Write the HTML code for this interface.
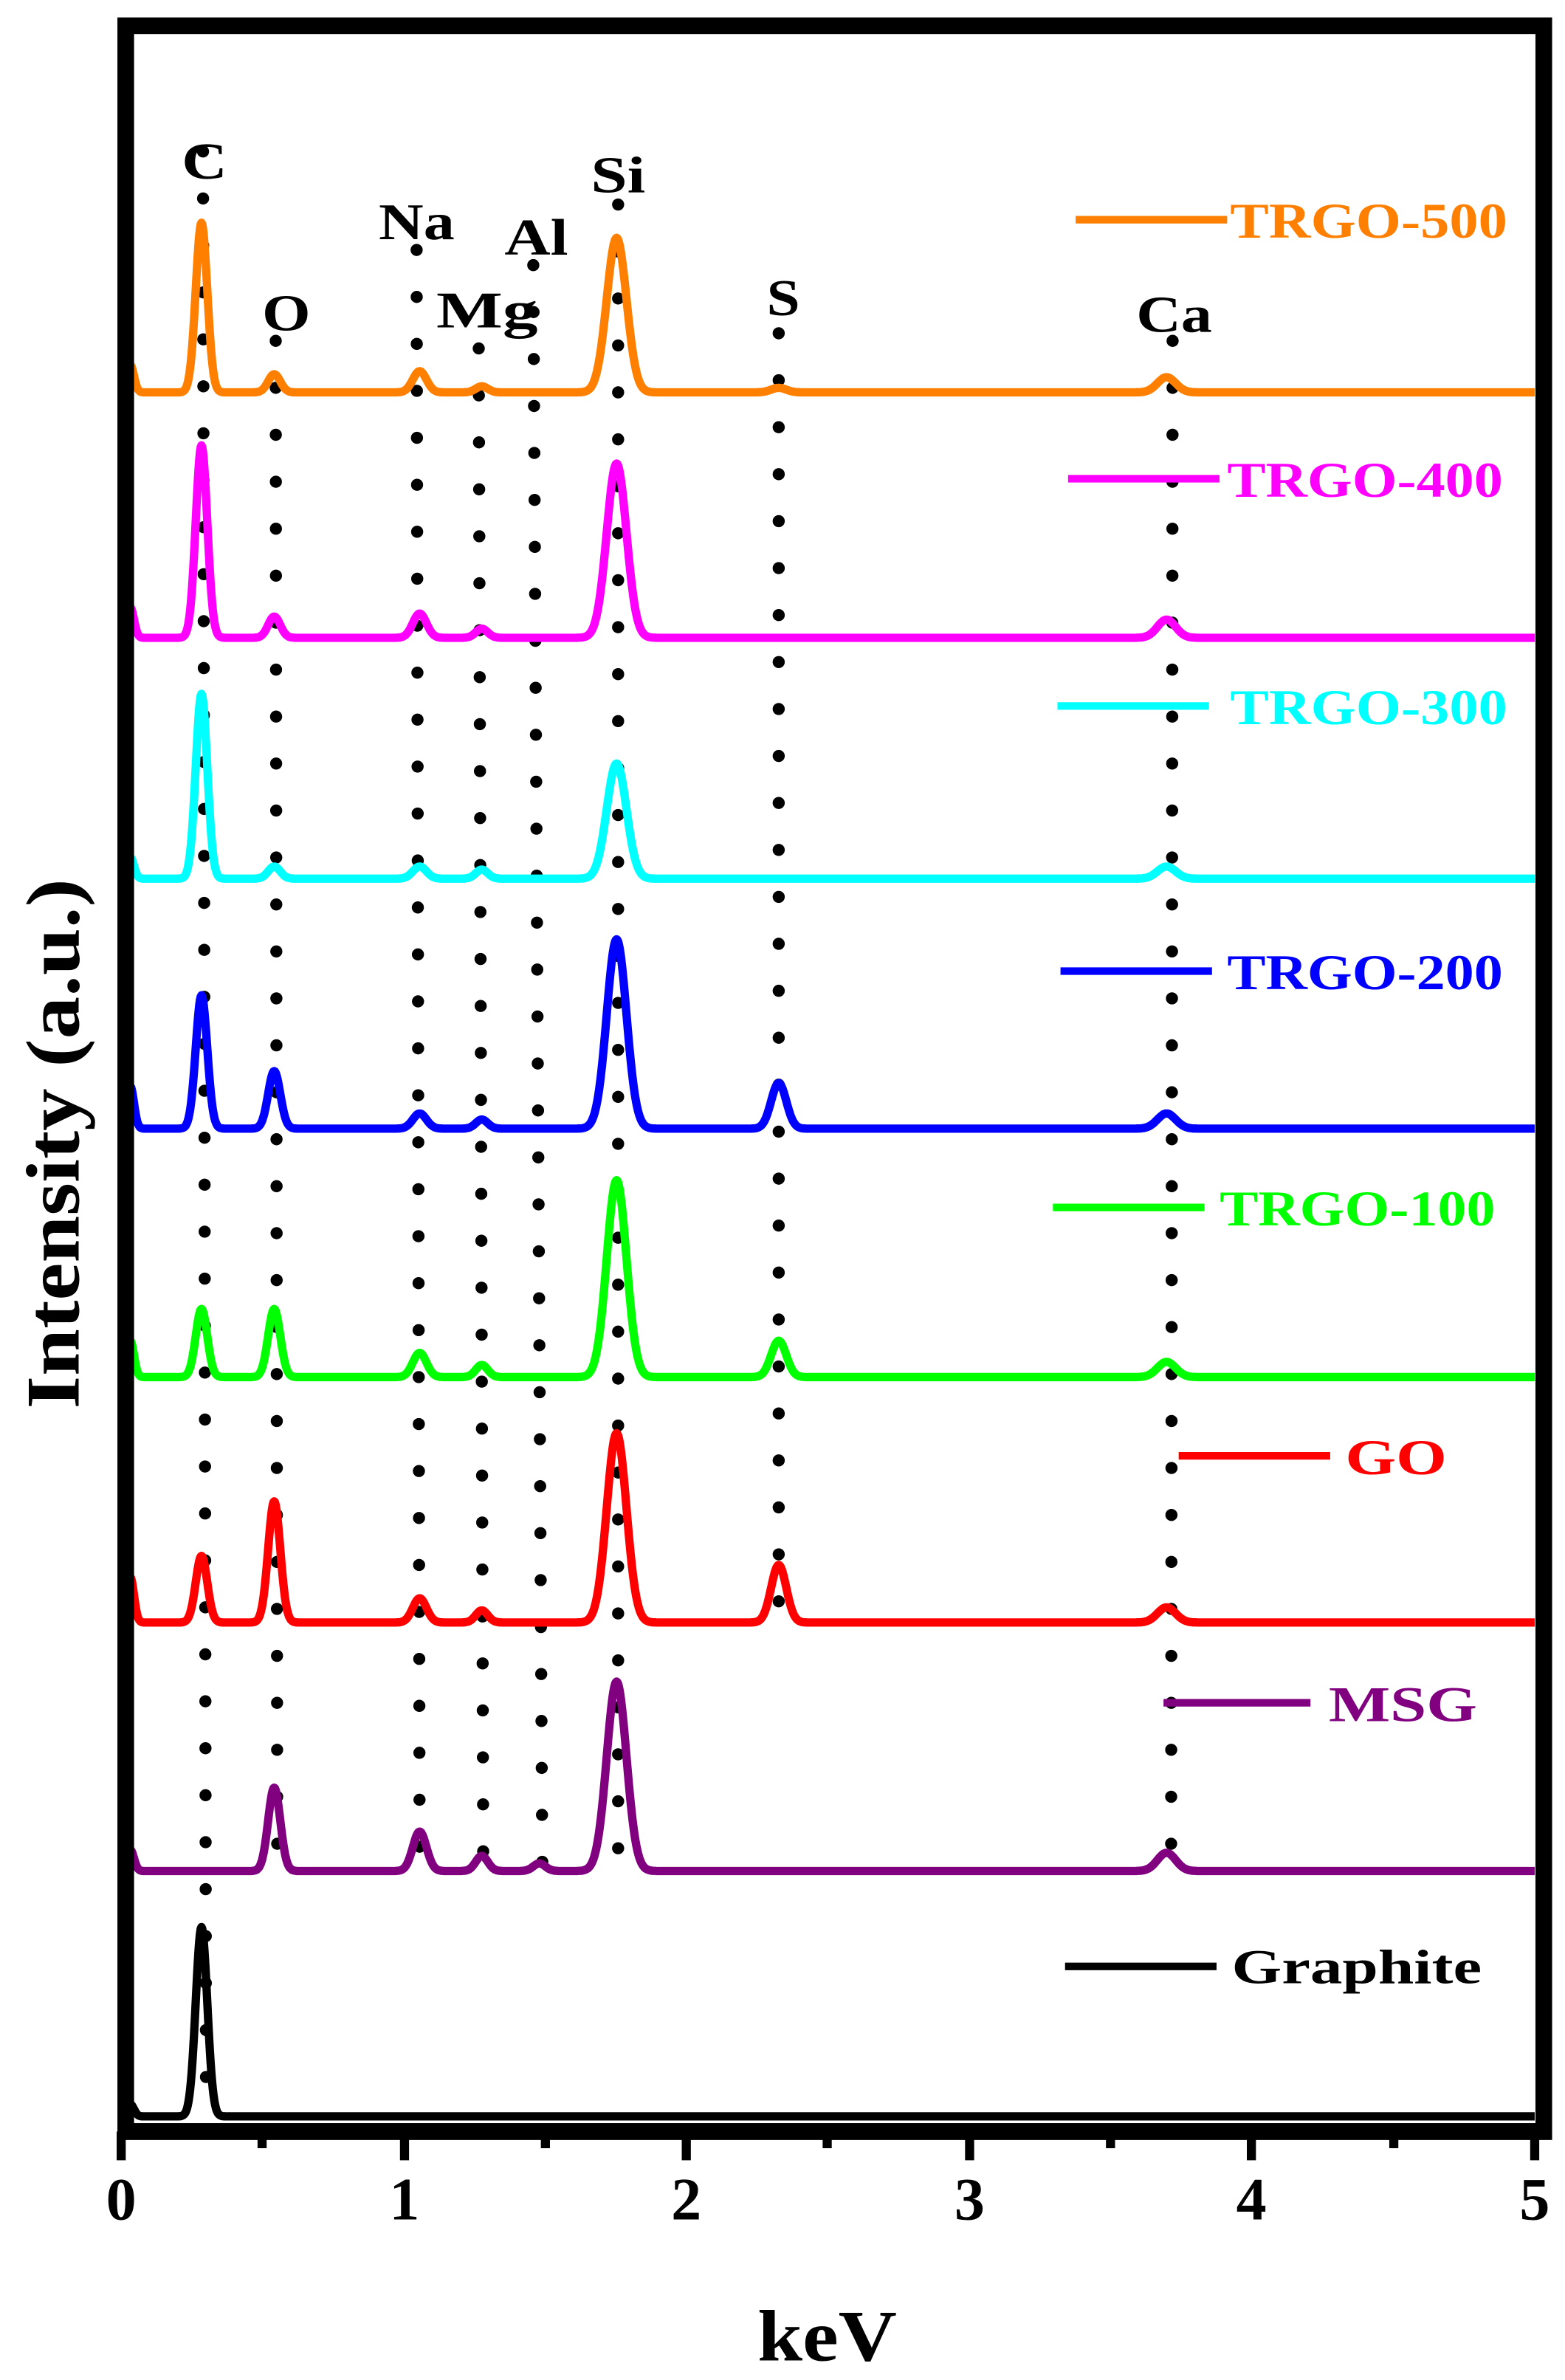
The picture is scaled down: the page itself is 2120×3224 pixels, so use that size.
<!DOCTYPE html>
<html><head><meta charset="utf-8"><style>
html,body{margin:0;padding:0;background:#fff;}
svg{display:block;}
text{font-family:"Liberation Serif",serif;font-weight:bold;}
</style></head><body>
<svg id="s" width="2120" height="3224" viewBox="0 0 1033 1571" preserveAspectRatio="none" xmlns="http://www.w3.org/2000/svg">
<rect x="0" y="0" width="1033" height="1571" fill="#fff"/>
<g id="dots" stroke="#000" stroke-width="8" stroke-linecap="round" stroke-dasharray="0 31" fill="none">
<line x1="134" y1="100" x2="136" y2="1395"/>
<line x1="182" y1="225" x2="183" y2="1232"/>
<line x1="275" y1="165" x2="277" y2="1235"/>
<line x1="316" y1="230" x2="319" y2="1240"/>
<line x1="352" y1="175" x2="358" y2="1240"/>
<line x1="408" y1="135" x2="408" y2="1232"/>
<line x1="514" y1="220" x2="514" y2="1062"/>
<line x1="774" y1="225" x2="773" y2="1232"/>
</g>
<g id="series" fill="none" stroke-width="5.5" stroke-linejoin="round"></g>
<rect x="83" y="17" width="936" height="1390" fill="none" stroke="#000" stroke-width="11"/>
<line x1="78" y1="1407" x2="1024" y2="1407" stroke="#000" stroke-width="11"/>
<g stroke="#000" stroke-width="6">
<line x1="80" y1="1407" x2="80" y2="1426"/><line x1="173" y1="1407" x2="173" y2="1418"/>
<line x1="267" y1="1407" x2="267" y2="1426"/><line x1="360" y1="1407" x2="360" y2="1418"/>
<line x1="453" y1="1407" x2="453" y2="1426"/><line x1="546" y1="1407" x2="546" y2="1418"/>
<line x1="640" y1="1407" x2="640" y2="1426"/><line x1="733" y1="1407" x2="733" y2="1418"/>
<line x1="826" y1="1407" x2="826" y2="1426"/><line x1="920" y1="1407" x2="920" y2="1418"/>
<line x1="1013" y1="1407" x2="1013" y2="1426"/>
</g>
<g font-size="40" text-anchor="middle" fill="#000">
<text x="80" y="1465">0</text><text x="267" y="1465">1</text>
<text x="453" y="1465">2</text><text x="640" y="1465">3</text>
<text x="826" y="1465">4</text><text x="1013" y="1465">5</text>
</g>
<text x="500" y="1558" font-size="48" textLength="92" lengthAdjust="spacingAndGlyphs">keV</text>
<text transform="translate(52,755) rotate(-90)" font-size="50" text-anchor="middle" textLength="350" lengthAdjust="spacingAndGlyphs">Intensity (a.u.)</text>
<g font-size="34" fill="#000">
<text x="120" y="118" textLength="30" lengthAdjust="spacingAndGlyphs">C</text>
<text x="173" y="218" textLength="32" lengthAdjust="spacingAndGlyphs">O</text>
<text x="250" y="158" textLength="50" lengthAdjust="spacingAndGlyphs">Na</text>
<text x="288" y="216" textLength="67" lengthAdjust="spacingAndGlyphs">Mg</text>
<text x="333" y="168" textLength="42" lengthAdjust="spacingAndGlyphs">Al</text>
<text x="390" y="127" textLength="36" lengthAdjust="spacingAndGlyphs">Si</text>
<text x="506" y="208" textLength="22" lengthAdjust="spacingAndGlyphs">S</text>
<text x="750" y="219" textLength="50" lengthAdjust="spacingAndGlyphs">Ca</text>
</g>
<g stroke-width="5">
<line x1="710" y1="145" x2="810" y2="145" stroke="#ff7f00"/>
<line x1="705" y1="316" x2="805" y2="316" stroke="#ff00ff"/>
<line x1="698" y1="466" x2="798" y2="466" stroke="#00ffff"/>
<line x1="700" y1="641" x2="800" y2="641" stroke="#0000ff"/>
<line x1="695" y1="797" x2="795" y2="797" stroke="#00ff00"/>
<line x1="778" y1="961" x2="878" y2="961" stroke="#ff0000"/>
<line x1="768" y1="1124" x2="865" y2="1124" stroke="#800080"/>
<line x1="703" y1="1298" x2="803" y2="1298" stroke="#000"/>
</g>
<g font-size="33">
<text x="812" y="157" fill="#ff7f00" textLength="183" lengthAdjust="spacingAndGlyphs">TRGO-500</text>
<text x="810" y="328" fill="#ff00ff" textLength="182" lengthAdjust="spacingAndGlyphs">TRGO-400</text>
<text x="812" y="478" fill="#00ffff" textLength="183" lengthAdjust="spacingAndGlyphs">TRGO-300</text>
<text x="810" y="653" fill="#0000ff" textLength="182" lengthAdjust="spacingAndGlyphs">TRGO-200</text>
<text x="805" y="809" fill="#00ff00" textLength="182" lengthAdjust="spacingAndGlyphs">TRGO-100</text>
<text x="888" y="973" fill="#ff0000" textLength="67" lengthAdjust="spacingAndGlyphs">GO</text>
<text x="877" y="1136" fill="#800080" textLength="98" lengthAdjust="spacingAndGlyphs">MSG</text>
<text x="813" y="1309" fill="#000" font-size="32" textLength="165" lengthAdjust="spacingAndGlyphs">Graphite</text>
</g>
</svg>
<script>
(function(){
var P={C:[133,3.8],O:[181,4],Na:[277,4.5],Mg:[318,4],Al:[356,4],Si:[407,6.5],S:[514,5],Ca:[770,6]};
var S=[
["#ff7f00",259,18,{C:112,O:12,Na:14,Mg:4,Si:102,S:3,Ca:10}],
["#ff00ff",421,20,{C:127,O:14,Na:16,Mg:6,Si:115,Ca:12}],
["#00ffff",580,14,{C:122,O:8,Na:8,Mg:6,Si:76,Ca:8}],
["#0000ff",745,28,{C:88,O:38,Na:10,Mg:6,Si:125,S:30,Ca:10}],
["#00ff00",909,24,{C:45,O:45,Na:16,Mg:8,Si:130,S:24,Ca:10}],
["#ff0000",1071,30,{C:44,O:80,Na:16,Mg:8,Si:125,S:38,Ca:10}],
["#800080",1235,14,{O:55,Na:26,Mg:10,Al:5,Si:125,Ca:12}],
["#000000",1397,8,{C:125}]
];
var g=document.getElementById('series'),ns="http://www.w3.org/2000/svg";
S.forEach(function(s){
var d="";
for(var x=86;x<=1013;x+=0.5){
var y=s[1];
var dx=x-86; y-=s[2]*Math.exp(-dx*dx/(2*6));
for(var k in s[3]){var p=P[k];var t=x-p[0];y-=s[3][k]*Math.exp(-t*t/(2*p[1]*p[1]));}
d+=(x==86?"M":"L")+x+","+y.toFixed(1);
}
var e=document.createElementNS(ns,"path");e.setAttribute("d",d);e.setAttribute("stroke",s[0]);g.appendChild(e);
});
})();
</script>
</body></html>
